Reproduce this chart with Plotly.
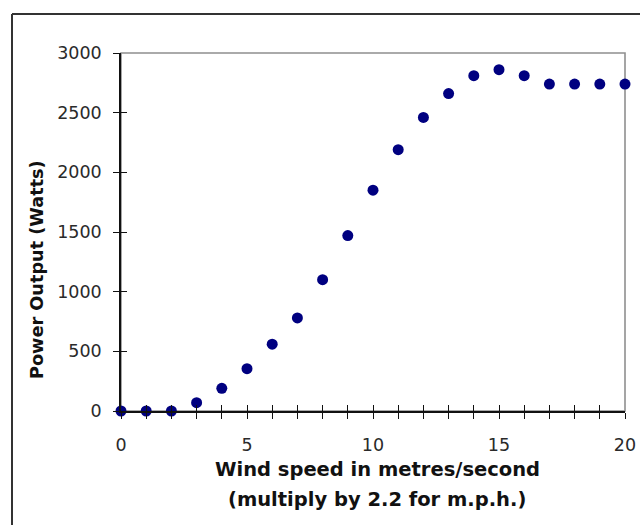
import plotly.graph_objects as go

wind_speed = list(range(0, 21))
power_watts = [0, 0, 0, 70, 190, 355, 560, 780, 1100, 1470, 1850, 2190, 2460, 2660,
               2810, 2860, 2810, 2740, 2740, 2740, 2740]
x_tick_vals = list(range(0, 21))
x_tick_text = [str(v) if v % 5 == 0 else "" for v in x_tick_vals]
y_tick_vals = [0, 500, 1000, 1500, 2000, 2500, 3000]

W, H = 640, 525
L, R, T, B = 121, 15, 53, 114
pw, ph = W - L - R, H - T - B

def px(x):
    return (x - L) / pw

def py(y):
    return (H - B - y) / ph

fig = go.Figure()
fig.add_trace(go.Scatter(x=wind_speed, y=power_watts, mode="markers",
                         marker=dict(color="#000080", size=11, line=dict(width=0)),
                         cliponaxis=False, showlegend=False))
# invisible trace for overlay axes (crossing tick marks)
fig.add_trace(go.Scatter(x=[0], y=[0], xaxis="x2", yaxis="y2", mode="markers",
                         marker=dict(opacity=0), showlegend=False, hoverinfo="skip"))

tickfont = dict(family="DejaVu Sans, Arial", size=17.5, color="#2a2a2a")
tickstyle = dict(ticklen=6, tickwidth=1.3, tickcolor="#111111")
fig.update_layout(
    width=W, height=H,
    margin=dict(l=L, r=R, t=T, b=B, autoexpand=False),
    paper_bgcolor="white", plot_bgcolor="white",
    xaxis=dict(range=[0, 20], tickvals=x_tick_vals, ticktext=x_tick_text,
               ticks="outside", **tickstyle, automargin=False,
               ticklabeloverflow="allow",
               showline=True, linecolor="#111111", linewidth=1.6,
               showgrid=False, zeroline=False, tickfont=tickfont, ticklabelstandoff=11),
    yaxis=dict(range=[0, 3000], tickvals=y_tick_vals, automargin=False,
               ticks="outside", **tickstyle,
               showline=True, linecolor="#111111", linewidth=1.6,
               showgrid=False, zeroline=False, tickfont=tickfont, ticklabelstandoff=8),
    xaxis2=dict(range=[0, 20], overlaying="x", tickvals=x_tick_vals, ticks="inside",
                **tickstyle, showticklabels=False, automargin=False,
                showline=False, showgrid=False, zeroline=False, side="bottom",
                anchor="y2"),
    yaxis2=dict(range=[0, 3000], overlaying="y", tickvals=y_tick_vals, ticks="inside",
                **tickstyle, showticklabels=False, automargin=False,
                showline=False, showgrid=False, zeroline=False, side="left",
                anchor="x2"),
    shapes=[
        dict(type="rect", xref="paper", yref="paper", x0=0, y0=0, x1=1, y1=1,
             line=dict(color="#8f8f8f", width=1.6), layer="below"),
        dict(type="line", xref="paper", yref="paper", x0=px(12), y0=py(14),
             x1=px(660), y1=py(14), line=dict(color="#333333", width=2), layer="below"),
        dict(type="line", xref="paper", yref="paper", x0=px(12), y0=py(14),
             x1=px(12), y1=py(560), line=dict(color="#333333", width=2), layer="below"),
    ],
    annotations=[
        dict(text="Wind speed in metres/second", xref="paper", yref="paper",
             x=px(377), y=py(470), xanchor="center", yanchor="middle", showarrow=False,
             font=dict(family="DejaVu Sans, Arial", size=19.5, color="#111111",
                       weight="bold")),
        dict(text="(multiply by 2.2 for m.p.h.)", xref="paper", yref="paper",
             x=px(377), y=py(499), xanchor="center", yanchor="middle", showarrow=False,
             font=dict(family="DejaVu Sans, Arial", size=19.5, color="#111111",
                       weight="bold")),
        dict(text="Power Output (Watts)", xref="paper", yref="paper",
             x=px(37), y=py(270), xanchor="center", yanchor="middle", showarrow=False,
             textangle=-90,
             font=dict(family="DejaVu Sans, Arial", size=17.7, color="#111111",
                       weight="bold")),
    ],
)
fig.write_html("out.html")
